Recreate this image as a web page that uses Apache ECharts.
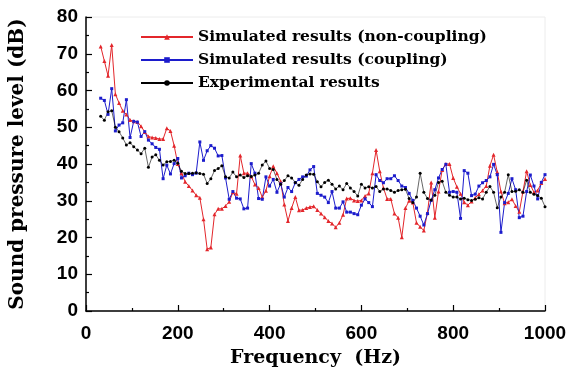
<!DOCTYPE html>
<html><head><meta charset="utf-8">
<script src="https://cdn.jsdelivr.net/npm/echarts@6/dist/echarts.min.js"></script>
<style>html,body{margin:0;padding:0;background:#fff}#c{width:581px;height:373px}</style>
</head><body><div id="c"></div>
<script>
var freq = [32,40,48,56,64,72,80,88,
96,104,112,120,128,136,144,152,
160,168,176,184,192,200,208,216,
224,232,240,248,256,264,272,280,
288,296,304,312,320,328,336,344,
352,360,368,376,384,392,400,408,
416,424,432,440,448,456,464,472,
480,488,496,504,512,520,528,536,
544,552,560,568,576,584,592,600,
608,616,624,632,640,648,656,664,
672,680,688,696,704,712,720,728,
736,744,752,760,768,776,784,792,
800,808,816,824,832,840,848,856,
864,872,880,888,896,904,912,920,
928,936,944,952,960,968,976,984,
992,1000];
var nonCoupling = [72,68,64,72.4,59,56.6,54.5,53.5,
52,51.6,51.4,50.3,48.7,47.5,47.2,47.1,
46.8,46.8,49.7,49.0,45,40,37.5,35.2,
34,32.8,31.5,30.8,25,16.8,17.3,26.3,
27.8,27.8,28.6,29.7,32.3,31.9,42.3,37.5,
37.5,36.6,34.4,33.5,31,32.7,36.7,39.4,
37.5,35.3,29,24.5,28,31,27.4,27.5,
28,28.3,28.5,27.5,26.5,25.5,24.5,23.8,
22.8,24,26.2,30.6,30.7,30.1,29.9,30.1,
31.3,32,37.5,43.8,38,33.5,30.5,30.5,
26.5,25.4,20.1,28,30,29.5,24,22.9,
21.9,26.8,35,25.4,32.5,38.4,40,40,
36.2,33.8,31.9,29.6,28.8,29.8,30.8,31.8,
32.8,34,39.5,42.5,37.8,32.5,29.3,29.6,
30.4,28.6,27,32.5,38,34.3,32.3,32.8,
34.8,35.9];
var coupling = [57.9,57.3,53.5,60.5,49,50.6,51.2,57.5,
47.2,51.6,51.4,47.5,48.8,46.5,45.5,44.5,
44,36,39.7,37.3,40.1,41.5,36.2,36.8,
37.5,37.1,37.5,46,41,43.6,45,44.3,
42.2,42.3,36.2,30.4,32.5,30.7,30.5,27.8,
28,40.1,37.5,30.6,30.4,36.5,34,35.8,
32.3,34.6,31,33.6,32.5,34.9,35.8,36.5,
36.7,38.4,39.3,32,31.5,31,29.5,32.5,
28,28,29.7,26.9,26.9,26.5,26.2,28.8,
30.5,29.5,28.4,37.1,35.5,34.9,36,36,
36.8,35.5,34,33.6,32,30.1,28,25.8,
23.4,26.5,30.1,33,36.2,38.5,39.9,32.3,
32.5,32.3,25.2,38.2,37.5,31.4,31.8,34,
34.9,35.5,36.5,39.9,37.1,21.4,29.5,32,
36,33,25.4,25.8,32.5,37,34,30.5,
35,37.1];
var experimental = [53,51.9,54.2,54.5,50,48.8,47.1,45.2,
45.8,44.7,43.8,42.8,44.3,39.1,41.9,42.5,
41,39.7,40.6,40.7,41,40.2,38,37.4,
37.4,37.5,37.6,37.4,37.2,34.7,36,38.2,
38.8,39.5,36.5,36.2,37.8,36.5,37,36.3,
36.8,36.6,37,37.5,39.7,40.8,38.8,38.5,
35.8,34.5,35.5,36.8,36.2,35,34.2,35.8,
37,37.3,37.2,35.2,33.8,35,35.6,34.5,
33.2,34,33,34.7,33.5,32.5,31.3,34.5,
33.5,33.8,33.5,33.9,32.5,33.2,33.2,32.8,
32.3,32.8,33,33.1,30.6,29.5,31,37.5,
32.3,30.6,30.2,31.5,35,35.3,32.3,31.5,
31,31,30.5,30.7,30.3,30.1,30.4,30.8,
30.5,32.3,33.9,32.3,28.1,31,32.3,37.1,
32.5,32.6,33,32.3,35.6,32.3,31.8,31.4,
30.7,28.4];
var seriesNames = ['Simulated results (non-coupling)','Simulated results (coupling)','Experimental results'];
var xTitle = 'Frequency  (Hz)';
var yTitle = 'Sound pressure level (dB)';

function pairs(v){ return freq.map(function(f,i){ return [f, v[i]]; }); }

var chart = echarts.init(document.getElementById('c'), null, {renderer:'canvas'});
var tickFont = {fontFamily:'Liberation Sans', fontWeight:'bold', fontSize:19, color:'#000'};
function plain(v){ return String(v); }
chart.setOption({
  animation:false,
  backgroundColor:'#fff',
  grid:{left:83, right:36, top:17, bottom:49, show:true, borderColor:'#ececec', borderWidth:1},
  legend:{
    orient:'vertical', left:135, top:23, itemGap:5, itemWidth:52, itemHeight:7,
    textStyle:{fontFamily:'DejaVu Serif', fontWeight:'bold', fontSize:15.5, color:'#000', lineHeight:18},
    data:seriesNames
  },
  xAxis:{
    type:'value', min:0, max:1000, interval:200,
    name:xTitle, nameLocation:'middle', nameGap:38,
    nameTextStyle:{fontFamily:'DejaVu Serif', fontWeight:'bold', fontSize:19, color:'#000'},
    axisLine:{show:true, onZero:false, lineStyle:{color:'#000', width:1.5}},
    axisTick:{show:true, inside:true, length:6, lineStyle:{color:'#000', width:1.2}},
    minorTick:{show:true, splitNumber:2, length:3, lineStyle:{color:'#000', width:1.2}},
    axisLabel:Object.assign({margin:13, formatter:plain}, tickFont),
    splitLine:{show:false}
  },
  yAxis:{
    type:'value', min:0, max:80, interval:10,
    name:yTitle, nameLocation:'middle', nameGap:58,
    nameTextStyle:{fontFamily:'DejaVu Serif', fontWeight:'bold', fontSize:20, color:'#000'},
    axisLine:{show:true, lineStyle:{color:'#000', width:1.5}},
    axisTick:{show:true, inside:true, length:6, lineStyle:{color:'#000', width:1.2}},
    minorTick:{show:true, splitNumber:2, length:3, lineStyle:{color:'#000', width:1.2}},
    axisLabel:Object.assign({margin:8, formatter:plain}, tickFont),
    splitLine:{show:false}
  },
  series:[
    {name:seriesNames[0], type:'line', data:pairs(nonCoupling), symbol:'triangle', symbolSize:4,
     lineStyle:{color:'#e3262b', width:1}, itemStyle:{color:'#e3262b'}},
    {name:seriesNames[1], type:'line', data:pairs(coupling), symbol:'rect', symbolSize:3,
     lineStyle:{color:'#1c1ccc', width:1}, itemStyle:{color:'#1c1ccc'}},
    {name:seriesNames[2], type:'line', data:pairs(experimental), symbol:'circle', symbolSize:3,
     lineStyle:{color:'#000', width:0.6}, itemStyle:{color:'#000'}}
  ]
});
</script></body></html>
